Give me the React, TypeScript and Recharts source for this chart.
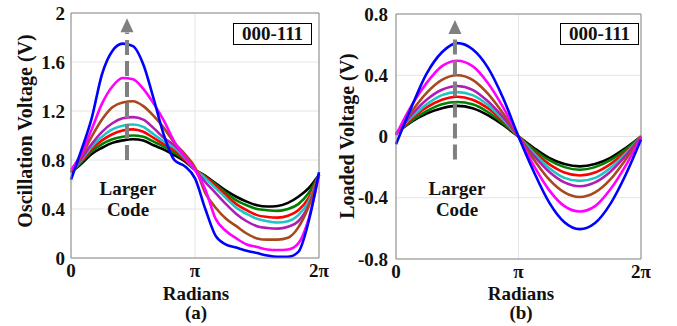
import React from 'react';
import { LineChart, Line, XAxis, YAxis, CartesianGrid, ReferenceLine, ReferenceDot } from 'recharts';

// x positions in steps of pi/12 (panel a) and pi/8 (panel b)
const A_X = [0, 1, 2, 3, 4, 5, 6, 7, 8, 9, 10, 11, 12, 13, 14, 15, 16, 17, 18, 19, 20, 21, 22, 23, 24];
const B_X = [0, 1, 2, 3, 4, 5, 6, 7, 8, 9, 10, 11, 12, 13, 14, 15, 16];

const COLORS = ['#000000', '#008000', '#ff0000', '#1fc4c4', '#b01cb8', '#a8481c', '#ff00ff', '#0000ff'];

// (a) oscillation voltage
const A_000 = [0.70, 0.77, 0.85, 0.90, 0.94, 0.96, 0.97, 0.96, 0.92, 0.885, 0.84, 0.79, 0.72, 0.67, 0.61, 0.55, 0.50, 0.46, 0.43, 0.42, 0.425, 0.45, 0.50, 0.57, 0.68];
const A_001 = [0.70, 0.78, 0.87, 0.93, 0.97, 0.99, 1.00, 0.99, 0.95, 0.91, 0.86, 0.80, 0.72, 0.665, 0.60, 0.53, 0.47, 0.43, 0.40, 0.39, 0.385, 0.40, 0.44, 0.53, 0.68];
const A_010 = [0.70, 0.79, 0.89, 0.96, 1.01, 1.04, 1.05, 1.03, 0.98, 0.93, 0.88, 0.805, 0.72, 0.66, 0.59, 0.51, 0.44, 0.39, 0.35, 0.335, 0.33, 0.345, 0.39, 0.49, 0.68];
const A_011 = [0.70, 0.80, 0.91, 0.99, 1.05, 1.08, 1.09, 1.07, 1.01, 0.95, 0.90, 0.82, 0.72, 0.65, 0.57, 0.49, 0.41, 0.36, 0.32, 0.30, 0.29, 0.30, 0.35, 0.46, 0.68];
const A_100 = [0.70, 0.81, 0.93, 1.03, 1.10, 1.14, 1.15, 1.13, 1.06, 0.98, 0.92, 0.83, 0.72, 0.62, 0.53, 0.44, 0.36, 0.30, 0.26, 0.245, 0.24, 0.255, 0.30, 0.43, 0.68];
const A_101 = [0.70, 0.83, 0.99, 1.13, 1.23, 1.27, 1.28, 1.24, 1.16, 1.06, 0.94, 0.85, 0.74, 0.53, 0.41, 0.32, 0.26, 0.20, 0.16, 0.15, 0.15, 0.165, 0.25, 0.42, 0.68];
const A_110 = [0.72, 0.85, 1.05, 1.26, 1.40, 1.47, 1.46, 1.38, 1.26, 1.12, 0.95, 0.83, 0.72, 0.56, 0.32, 0.22, 0.16, 0.11, 0.09, 0.07, 0.065, 0.07, 0.12, 0.32, 0.68];
const A_111 = [0.64, 0.88, 1.14, 1.50, 1.69, 1.75, 1.73, 1.58, 1.30, 1.00, 0.80, 0.75, 0.65, 0.40, 0.18, 0.11, 0.085, 0.06, 0.04, 0.02, 0.01, 0.01, 0.05, 0.30, 0.70];

// (b) loaded voltage
const B_000 = [0.02, 0.095, 0.15, 0.185, 0.20, 0.185, 0.14, 0.075, 0, -0.075, -0.14, -0.18, -0.195, -0.18, -0.14, -0.075, 0];
const B_001 = [0.02, 0.10, 0.165, 0.21, 0.225, 0.21, 0.16, 0.085, 0, -0.085, -0.155, -0.20, -0.217, -0.20, -0.155, -0.085, 0];
const B_010 = [0.02, 0.115, 0.19, 0.24, 0.26, 0.24, 0.185, 0.10, 0, -0.10, -0.18, -0.235, -0.255, -0.235, -0.18, -0.10, 0];
const B_011 = [0.02, 0.125, 0.21, 0.27, 0.29, 0.27, 0.205, 0.11, 0, -0.11, -0.205, -0.27, -0.29, -0.27, -0.205, -0.11, 0];
const B_100 = [0.015, 0.14, 0.24, 0.305, 0.33, 0.305, 0.23, 0.125, 0, -0.125, -0.23, -0.30, -0.325, -0.30, -0.23, -0.125, 0];
const B_101 = [0.01, 0.16, 0.285, 0.37, 0.40, 0.37, 0.28, 0.15, 0, -0.15, -0.28, -0.365, -0.395, -0.365, -0.28, -0.15, 0];
const B_110 = [0.01, 0.20, 0.35, 0.46, 0.495, 0.46, 0.35, 0.19, 0, -0.19, -0.35, -0.455, -0.49, -0.455, -0.345, -0.19, -0.005];
const B_111 = [-0.05, 0.19, 0.41, 0.55, 0.61, 0.57, 0.45, 0.25, 0, -0.23, -0.43, -0.56, -0.605, -0.565, -0.44, -0.25, -0.02];

const A_SERIES = [A_000, A_001, A_010, A_011, A_100, A_101, A_110, A_111];
const B_SERIES = [B_000, B_001, B_010, B_011, B_100, B_101, B_110, B_111];

const A_TICKS_Y = [0, 0.4, 0.8, 1.2, 1.6, 2];
const B_TICKS_Y = [-0.8, -0.4, 0, 0.4, 0.8];
const PI_LABELS = ['0', 'π', '2π'];

const FONT = '"Liberation Serif", "Times New Roman", serif';
const tickStyle = { fontSize: 19, fontWeight: 'bold', fill: '#111', fontFamily: FONT };

const buildRows = (xs: number[], series: number[][]) =>
  xs.map((x, i) => {
    const row: any = { x };
    series.forEach((s, j) => (row['s' + j] = s[i]));
    return row;
  });

const dataA = buildRows(A_X, A_SERIES);
const dataB = buildRows(B_X, B_SERIES);

const ArrowHead = (props: any) => {
  const { cx, cy } = props;
  return <polygon points={`${cx},${cy - 7} ${cx - 6.5},${cy + 7} ${cx + 6.5},${cy + 7}`} fill="#808080" />;
};

const Panel = (p: any) => {
  const { data, xMax, yMin, yMax, yTicks, margin, yWidth, arrowX, arrowFrom, arrowTo, tipY } = p;
  return (
    <LineChart width={340} height={326} data={data} margin={margin}>
      <CartesianGrid stroke="#e4e4e4" strokeWidth={1} />
      <XAxis
        type="number"
        dataKey="x"
        domain={[0, xMax]}
        ticks={[0, xMax / 2, xMax]}
        tickFormatter={(v: number) => PI_LABELS[Math.round((v / xMax) * 2)]}
        tick={tickStyle}
        tickLine={false}
        tickSize={0}
        tickMargin={6}
        height={30}
        axisLine={{ stroke: '#8a8a8a' }}
        interval={0}
      />
      <YAxis
        type="number"
        domain={[yMin, yMax]}
        ticks={yTicks}
        tick={tickStyle}
        tickLine={false}
        tickSize={0}
        tickMargin={p.yMargin}
        width={yWidth}
        axisLine={{ stroke: '#8a8a8a' }}
        interval={0}
      />
      <ReferenceLine y={yMax} stroke="#8a8a8a" />
      <ReferenceLine x={xMax} stroke="#8a8a8a" />
      {COLORS.map((c, j) => (
        <Line
          key={j}
          type="monotone"
          dataKey={'s' + j}
          stroke={c}
          strokeWidth={2.6}
          dot={false}
          isAnimationActive={false}
        />
      ))}
      <ReferenceLine
        segment={[{ x: arrowX, y: arrowFrom }, { x: arrowX, y: arrowTo }]}
        stroke="#808080"
        strokeWidth={4}
        strokeDasharray="15 6"
      />
      <ReferenceDot x={arrowX} y={tipY} shape={<ArrowHead />} />
    </LineChart>
  );
};

const abs = (left: number, top: number, extra: any = {}) => ({
  position: 'absolute' as const,
  left,
  top,
  whiteSpace: 'nowrap' as const,
  ...extra,
});

const Annotations = ({ yLabel, yLabelX, yLabelY, sub, boxX, arrowPx }: any) => (
  <>
    <div style={abs(yLabelX, yLabelY, { fontSize: 20, lineHeight: '20px', transform: 'translate(-50%, -50%) rotate(-90deg)' })}>
      {yLabel}
    </div>
    <div style={abs(boxX, 23, { width: 77, height: 20, border: '1.5px solid #000', background: '#fff', fontSize: 19, lineHeight: '20px', textAlign: 'center' })}>
      000-111
    </div>
    <div style={abs(arrowPx, 178, { fontSize: 19, lineHeight: '21px', textAlign: 'center', transform: 'translateX(-50%)' })}>
      Larger
      <br />
      Code
    </div>
    <div style={abs(sub.cx, 286, { fontSize: 19, lineHeight: '15px', transform: 'translateX(-50%)' })}>Radians</div>
    <div style={abs(sub.cx, 305, { fontSize: 19, lineHeight: '15px', transform: 'translateX(-50%)' })}>{sub.text}</div>
  </>
);

export default function App() {
  return (
    <div
      style={{
        position: 'absolute',
        left: 0,
        top: 0,
        width: 677,
        height: 326,
        background: '#fff',
        overflow: 'hidden',
        fontFamily: FONT,
        fontWeight: 'bold',
        color: '#111',
      }}
    >
      <div style={{ position: 'absolute', left: 0, top: 0 }}>
        <Panel
          data={dataA}
          xMax={24}
          yMin={0}
          yMax={2}
          yTicks={A_TICKS_Y}
          margin={{ top: 13, right: 21, bottom: 38, left: 11 }}
          yWidth={60}
          yMargin={6}
          arrowX={5.42}
          arrowFrom={0.8}
          arrowTo={1.84}
          tipY={1.9}
        />
      </div>
      <div style={{ position: 'absolute', left: 337, top: 0 }}>
        <Panel
          data={dataB}
          xMax={16}
          yMin={-0.8}
          yMax={0.8}
          yTicks={B_TICKS_Y}
          margin={{ top: 14, right: 36, bottom: 37, left: 9 }}
          yWidth={50}
          yMargin={8}
          arrowX={3.85}
          arrowFrom={-0.15}
          arrowTo={0.67}
          tipY={0.715}
        />
      </div>
      <Annotations yLabel="Oscillation Voltage (V)" yLabelX={25} yLabelY={131} sub={{ cx: 196, text: '(a)' }} boxX={233} arrowPx={128} />
      <Annotations yLabel="Loaded Voltage (V)" yLabelX={347} yLabelY={136} sub={{ cx: 521, text: '(b)' }} boxX={560} arrowPx={457} />
    </div>
  );
}
